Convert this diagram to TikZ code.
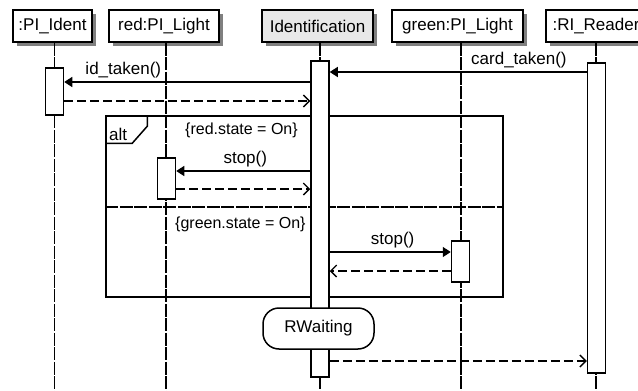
\documentclass[tikz,border=0pt]{standalone}
\usepackage{fontspec}
\setmainfont{Liberation Sans}
\usetikzlibrary{arrows.meta,shadows}

\tikzset{
  head/.style={draw, line width=1.5pt, minimum height=32pt, inner sep=0pt,
    drop shadow={shadow xshift=4pt, shadow yshift=-4pt, fill=gray, opacity=1}},
  lifeline/.style={line width=1.5pt, dash pattern=on 13pt off 1.5pt},
  act/.style={draw, fill=white, line width=1.5pt, minimum width=18pt, inner sep=0pt},
  msg/.style={line width=1.6pt, -{Triangle[length=8pt,width=10pt]}},
  reply/.style={line width=1.4pt, dash pattern=on 9pt off 4pt,
    -{Straight Barb[length=6pt,width=12pt]}},
  lbl/.style={above=2pt, inner sep=1pt},
  guard/.style={anchor=west, inner sep=0pt, font=\fontsize{16}{18}\selectfont},
}

\begin{document}
\begin{tikzpicture}[x=1pt, y=-1pt, font=\fontsize{17}{20}\selectfont]
  \useasboundingbox (0,0) rectangle (638,391);
  \clip (0,0) rectangle (638,391);

  % objects and lifelines
  \foreach \nm/\bx/\lx/\w/\fc/\txt in {PI/52.5/54.5/79/white/{:PI\_Ident},
      Red/164/166/110/white/{red:PI\_Light},
      Id/317.5/320/111/black!9/{Identification},
      Green/457.5/461/131/white/{green:PI\_Light},
      RI/596/596/100/white/{:RI\_Reader}} {
    \node[head, fill=\fc, minimum width=\w pt] (hd\nm) at (\bx,26) {\txt};
    \coordinate (ll\nm) at (\lx,391);
    \draw[lifeline] (hd\nm.south -| ll\nm) -- (ll\nm);
  }

  % alt fragment
  \node[draw, line width=1.5pt, minimum width=397pt, minimum height=181pt,
    inner sep=0pt] (alt) at (304.5,206.5) {};
  \coordinate (div) at (0,207);
  \draw[lifeline] (alt.west |- div) -- (alt.east |- div);
  \draw[line width=1.5pt] (alt.north west) ++(42,0) -- ++(0,11) -- ++(-15,17)
    -- ++(-27,0);
  \node[anchor=west, inner sep=0pt] (altlbl) at (109,134) {alt};

  % activations
  \node[act, minimum height=47pt] (aPI) at (54.5,91.5) {};
  \node[act, minimum height=316pt] (aId) at (320,219) {};
  \node[act, minimum height=41pt] (aRed) at (166.5,178.5) {};
  \node[act, minimum height=41pt] (aGreen) at (460.5,261.5) {};
  \node[act, minimum height=310pt] (aRI) at (596.5,218) {};

  % message rows
  \coordinate (m1) at (0,72);
  \coordinate (m2) at (0,82);
  \coordinate (m3) at (0,101);
  \coordinate (m4) at (0,171);
  \coordinate (m5) at (0,189);
  \coordinate (m6) at (0,252);
  \coordinate (m7) at (0,271);
  \coordinate (m8) at (0,361);

  \draw[msg] (aRI.west |- m1) -- node[lbl, pos=0.264] {card\_taken()} (aId.east |- m1);
  \draw[msg] (aId.west |- m2) -- node[lbl, pos=0.76] {id\_taken()} (aPI.east |- m2);
  \draw[reply] (aPI.east |- m3) -- (aId.west |- m3);
  \draw[msg] (aId.west |- m4) -- node[lbl, pos=0.485] {stop()} (aRed.east |- m4);
  \draw[reply] (aRed.east |- m5) -- (aId.west |- m5);
  \draw[msg] (aId.east |- m6) -- node[lbl, pos=0.52] {stop()} (aGreen.west |- m6);
  \draw[reply] (aGreen.west |- m7) -- (aId.east |- m7);
  \draw[reply] (aId.east |- m8) -- (aRI.west |- m8);

  % guards
  \node[guard] (gRed) at (185,130) {\{red.state = On\}};
  \node[guard] (gGreen) at (175,224) {\{green.state = On\}};

  % state
  \node[draw, fill=white, line width=1.5pt, rounded corners=16pt,
    minimum width=111pt, minimum height=41pt] (rw) at (318.5,328.5) {RWaiting};
\end{tikzpicture}
\end{document}
